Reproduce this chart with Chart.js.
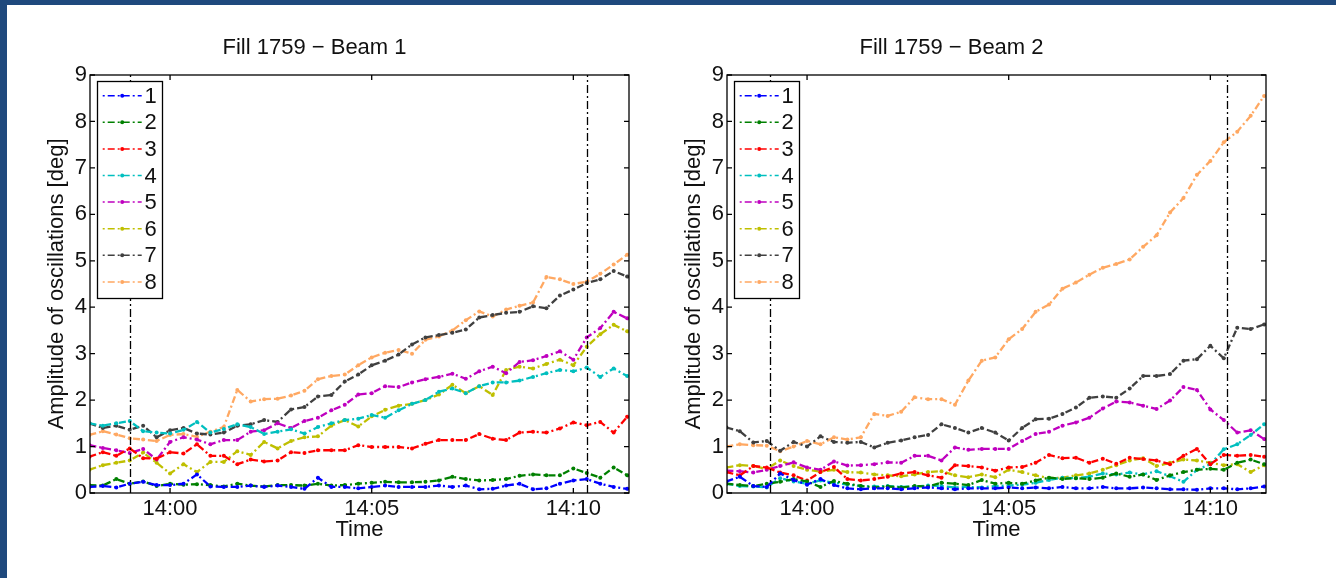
<!DOCTYPE html>
<html>
<head>
<meta charset="utf-8">
<script src="https://cdn.jsdelivr.net/npm/chart.js@4.4.1/dist/chart.umd.min.js"></script>
<style>
html,body{margin:0;padding:0;background:#fff;}
body{width:1336px;height:578px;position:relative;overflow:hidden;}
.wrap{position:absolute;top:0;width:660px;height:578px;}
#bt{position:absolute;left:0;top:0;width:1336px;height:5px;background:#1f497d;}
#bl{position:absolute;left:0;top:0;width:7px;height:578px;background:#1f497d;}
</style>
</head>
<body>
<div class="wrap" style="left:0px"><canvas id="c1" width="660" height="578"></canvas></div>
<div class="wrap" style="left:637px"><canvas id="c2" width="660" height="578"></canvas></div>
<div id="bt"></div><div id="bl"></div>
<script>
// time of each sample, minutes after 14:00
const times = [-2,-1.667,-1.333,-1,-0.667,-0.333,0,0.333,0.667,1,1.333,1.667,2,2.333,2.667,3,3.333,3.667,4,4.333,4.667,5,5.333,5.667,6,6.333,6.667,7,7.333,7.667,8,8.333,8.667,9,9.333,9.667,10,10.333,10.667,11,11.333];

const seriesNames = ['1','2','3','4','5','6','7','8'];
const seriesColors = ['#0000ff','#008000','#ff0000','#00bfbf','#bf00bf','#bfbf00','#404040','#ffa862'];

const xTickValues = [0,5,10];
const xTickLabels = ['14:00','14:05','14:10'];
const xMin = -1.985, xMax = 11.38;
const yMin = 0, yMax = 9;

const beam1Title = 'Fill 1759 \u2212 Beam 1';
const beam2Title = 'Fill 1759 \u2212 Beam 2';
const yTitle = 'Amplitude of oscillations [deg]';
const xTitle = 'Time';

const beam1Markers = [-0.99, 10.34];
const beam2Markers = [-0.92, 10.42];

// Beam 1
const b1s1 = [0.13,0.15,0.12,0.2,0.24,0.17,0.17,0.2,0.4,0.14,0.13,0.13,0.16,0.13,0.16,0.13,0.09,0.33,0.13,0.13,0.1,0.13,0.16,0.13,0.13,0.13,0.16,0.13,0.16,0.08,0.09,0.16,0.2,0.08,0.1,0.2,0.27,0.3,0.2,0.13,0.09];
const b1s2 = [0.17,0.16,0.3,0.2,0.25,0.15,0.2,0.18,0.19,0.17,0.14,0.2,0.16,0.14,0.17,0.17,0.16,0.2,0.16,0.17,0.2,0.22,0.24,0.23,0.23,0.24,0.27,0.35,0.3,0.27,0.28,0.3,0.37,0.4,0.38,0.38,0.53,0.43,0.33,0.55,0.38];
const b1s3 = [0.78,0.88,0.8,0.96,0.75,0.74,0.88,0.85,1.05,0.8,0.8,0.62,0.72,0.68,0.7,0.88,0.86,0.92,0.92,0.92,1.03,0.99,0.99,0.99,0.96,1.06,1.14,1.14,1.14,1.27,1.17,1.14,1.3,1.32,1.3,1.39,1.52,1.46,1.53,1.3,1.64];
const b1s4 = [1.5,1.45,1.5,1.55,1.33,1.3,1.28,1.36,1.53,1.3,1.38,1.48,1.42,1.27,1.32,1.37,1.28,1.42,1.5,1.57,1.6,1.68,1.62,1.78,1.92,2.0,2.18,2.25,2.15,2.3,2.38,2.38,2.42,2.5,2.58,2.65,2.62,2.7,2.5,2.68,2.52];
const b1s5 = [1.03,0.97,0.92,0.86,0.95,0.72,1.1,1.2,1.15,1.05,1.14,1.14,1.32,1.35,1.5,1.4,1.55,1.62,1.78,1.9,2.12,2.15,2.3,2.28,2.38,2.45,2.5,2.57,2.46,2.62,2.72,2.58,2.82,2.86,2.95,3.05,2.87,3.35,3.55,3.9,3.76];
const b1s6 = [0.5,0.6,0.65,0.7,0.87,0.65,0.42,0.62,0.45,0.67,0.67,0.9,0.82,1.1,0.96,1.12,1.2,1.22,1.45,1.57,1.43,1.65,1.79,1.88,1.92,2.0,2.12,2.33,2.15,2.3,2.11,2.65,2.72,2.68,2.78,2.87,2.75,3.15,3.42,3.62,3.48];
const b1s7 = [1.5,1.4,1.45,1.36,1.45,1.2,1.35,1.4,1.28,1.26,1.3,1.45,1.48,1.57,1.53,1.8,1.85,2.08,2.11,2.4,2.55,2.75,2.85,2.98,3.2,3.35,3.4,3.45,3.52,3.78,3.83,3.88,3.9,4.02,3.98,4.25,4.38,4.52,4.6,4.78,4.66];
const b1s8 = [1.25,1.33,1.26,1.18,1.15,1.12,1.25,1.27,1.21,1.32,1.42,2.22,1.97,2.02,2.03,2.1,2.2,2.45,2.52,2.55,2.75,2.92,3.02,3.08,3.0,3.3,3.37,3.5,3.72,3.91,3.8,3.95,4.03,4.1,4.65,4.6,4.5,4.55,4.72,4.92,5.13];

// Beam 2
const b2s1 = [0.25,0.35,0.15,0.13,0.42,0.28,0.18,0.3,0.17,0.1,0.08,0.1,0.1,0.08,0.1,0.12,0.1,0.08,0.1,0.1,0.1,0.12,0.1,0.12,0.1,0.13,0.1,0.1,0.13,0.1,0.1,0.12,0.1,0.08,0.08,0.07,0.1,0.1,0.08,0.1,0.14];
const b2s2 = [0.2,0.17,0.15,0.2,0.24,0.3,0.25,0.13,0.26,0.2,0.15,0.12,0.14,0.12,0.15,0.14,0.22,0.2,0.17,0.28,0.2,0.22,0.2,0.27,0.33,0.3,0.32,0.3,0.33,0.42,0.35,0.4,0.28,0.38,0.45,0.5,0.52,0.5,0.65,0.72,0.62];
const b2s3 = [0.45,0.38,0.58,0.55,0.44,0.38,0.27,0.45,0.56,0.3,0.27,0.3,0.35,0.42,0.45,0.38,0.33,0.6,0.58,0.55,0.48,0.55,0.56,0.65,0.82,0.75,0.76,0.65,0.74,0.63,0.76,0.73,0.7,0.62,0.8,0.95,0.62,0.82,0.8,0.82,0.78];
const b2s4 = [0.2,0.15,0.14,0.12,0.32,0.25,0.2,0.27,0.22,0.18,0.15,0.14,0.15,0.13,0.14,0.16,0.15,0.12,0.13,0.12,0.15,0.16,0.18,0.22,0.28,0.33,0.32,0.35,0.42,0.4,0.44,0.4,0.47,0.36,0.24,0.5,0.62,0.94,1.05,1.25,1.48];
const b2s5 = [0.48,0.47,0.44,0.5,0.58,0.66,0.55,0.5,0.68,0.59,0.6,0.62,0.66,0.65,0.8,0.8,0.7,0.98,0.93,0.95,0.95,0.95,1.12,1.27,1.32,1.45,1.52,1.62,1.82,1.97,1.95,1.88,1.81,1.99,2.28,2.22,1.8,1.57,1.3,1.35,1.16];
const b2s6 = [0.55,0.6,0.58,0.52,0.7,0.58,0.5,0.46,0.5,0.45,0.44,0.4,0.38,0.36,0.4,0.45,0.47,0.38,0.34,0.4,0.34,0.5,0.45,0.38,0.32,0.33,0.38,0.42,0.5,0.6,0.7,0.75,0.58,0.65,0.72,0.7,0.65,0.6,0.62,0.45,0.6];
const b2s7 = [1.41,1.33,1.09,1.12,0.91,1.1,1.0,1.22,1.1,1.08,1.1,0.98,1.08,1.13,1.2,1.25,1.48,1.4,1.3,1.4,1.3,1.13,1.4,1.59,1.6,1.7,1.84,2.05,2.08,2.05,2.25,2.52,2.52,2.56,2.85,2.88,3.17,2.9,3.56,3.53,3.63];
const b2s8 = [1.0,1.05,1.03,1.02,0.9,1.0,1.12,1.05,1.2,1.15,1.2,1.7,1.66,1.75,2.06,2.02,2.02,1.9,2.42,2.85,2.92,3.31,3.53,3.9,4.06,4.4,4.53,4.7,4.85,4.93,5.03,5.3,5.55,6.04,6.35,6.85,7.15,7.55,7.78,8.12,8.55];

const beam1 = [b1s1,b1s2,b1s3,b1s4,b1s5,b1s6,b1s7,b1s8];
const beam2 = [b2s1,b2s2,b2s3,b2s4,b2s5,b2s6,b2s7,b2s8];

const FONT = "'Liberation Sans', Arial, Helvetica, sans-serif";
const TXT = '#111111';
const LINE_DASH = [7,3,2,3];

const markerPlugin = {
  id: 'markers',
  afterDatasetsDraw(chart, args, opts) {
    const {ctx, chartArea, scales} = chart;
    ctx.save();
    ctx.strokeStyle = '#000';
    ctx.lineWidth = 1.3;
    ctx.setLineDash([8,3,2,3]);
    (opts.times || []).forEach(t => {
      const px = Math.round(scales.x.getPixelForValue(t)) + 0.5;
      ctx.beginPath();
      ctx.moveTo(px, chartArea.bottom);
      ctx.lineTo(px, chartArea.top);
      ctx.stroke();
    });
    ctx.restore();
  }
};

const boxLegendPlugin = {
  id: 'boxLegend',
  afterDraw(chart) {
    const {ctx, chartArea} = chart;
    const L = chartArea.left, T = chartArea.top;
    ctx.save();
    const bx = Math.round(L + 6.5) + 0.5, by = Math.round(T + 5.5) + 0.5;
    ctx.fillStyle = '#fff';
    ctx.fillRect(bx, by, 65, 217);
    ctx.strokeStyle = '#000';
    ctx.lineWidth = 1.3;
    ctx.setLineDash([]);
    ctx.strokeRect(bx, by, 65, 217);
    chart.data.datasets.forEach((ds, i) => {
      const cy = T + 20.7 + i * 26.6;
      ctx.strokeStyle = ds.borderColor;
      ctx.lineWidth = 1.5;
      ctx.setLineDash(LINE_DASH);
      ctx.lineDashOffset = 10;
      ctx.beginPath();
      ctx.moveTo(L + 12.7, cy);
      ctx.lineTo(L + 51.7, cy);
      ctx.stroke();
      ctx.setLineDash([]);
      ctx.fillStyle = ds.borderColor;
      ctx.beginPath();
      ctx.arc(L + 32.2, cy, 2, 0, Math.PI * 2);
      ctx.fill();
      ctx.fillStyle = TXT;
      ctx.font = '22px ' + FONT;
      ctx.textAlign = 'left';
      ctx.textBaseline = 'middle';
      ctx.fillText(ds.label, L + 54.5, cy + 1);
    });
    const {left, right, top, bottom} = chartArea;
    ctx.strokeStyle = '#000';
    ctx.lineWidth = 1.3;
    ctx.setLineDash([]);
    ctx.strokeRect(left, top, right - left, bottom - top);
    const tl = 5;
    ctx.beginPath();
    chart.scales.y.ticks.forEach(t => {
      const py = chart.scales.y.getPixelForValue(t.value);
      ctx.moveTo(left, py); ctx.lineTo(left + tl, py);
      ctx.moveTo(right, py); ctx.lineTo(right - tl, py);
    });
    chart.scales.x.ticks.forEach(t => {
      const px = chart.scales.x.getPixelForValue(t.value);
      ctx.moveTo(px, bottom); ctx.lineTo(px, bottom - tl);
      ctx.moveTo(px, top); ctx.lineTo(px, top + tl);
    });
    ctx.stroke();
    ctx.restore();
  }
};

function makeChart(id, title, series, markers) {
  const datasets = series.map((vals, i) => ({
    label: seriesNames[i],
    data: times.map((t, j) => ({x: t, y: vals[j]})),
    borderColor: seriesColors[i],
    backgroundColor: seriesColors[i],
    borderWidth: 2.3,
    borderDash: LINE_DASH,
    pointRadius: 2,
    pointBorderWidth: 0,
    pointHoverRadius: 0,
    tension: 0,
    fill: false
  }));
  return new Chart(document.getElementById(id), {
    type: 'line',
    data: {datasets},
    plugins: [markerPlugin, boxLegendPlugin],
    options: {
      responsive: false,
      animation: false,
      events: [],
      layout: {padding: {left: 0, right: 31, top: 0, bottom: 0}},
      plugins: {
        legend: {display: false},
        tooltip: {enabled: false},
        title: {display: true, text: title, color: TXT,
                font: {family: FONT, size: 22, weight: 'normal'},
                padding: {top: 35, bottom: 13.6}},
        markers: {times: markers}
      },
      scales: {
        x: {
          type: 'linear', min: xMin, max: xMax,
          afterBuildTicks: s => { s.ticks = xTickValues.map(v => ({value: v})); },
          afterFit: s => { s.height = 85; },
          ticks: {
            callback: v => xTickLabels[xTickValues.indexOf(v)],
            color: TXT, font: {family: FONT, size: 22}, padding: 3,
            maxRotation: 0, autoSkip: false
          },
          grid: {display: false, drawTicks: false},
          border: {display: false},
          title: {display: true, text: xTitle, color: TXT,
                  font: {family: FONT, size: 22}, padding: {top: 0, bottom: 34.8}}
        },
        y: {
          min: yMin, max: yMax,
          afterFit: s => { s.width = 90; },
          ticks: {stepSize: 1, color: TXT, font: {family: FONT, size: 22}, padding: 3},
          grid: {display: false, drawTicks: false},
          border: {display: false},
          title: {display: true, text: yTitle, color: TXT,
                  font: {family: FONT, size: 22}, padding: {top: 43.8, bottom: 0}}
        }
      }
    }
  });
}

makeChart('c1', beam1Title, beam1, beam1Markers);
makeChart('c2', beam2Title, beam2, beam2Markers);
</script>
</body>
</html>
